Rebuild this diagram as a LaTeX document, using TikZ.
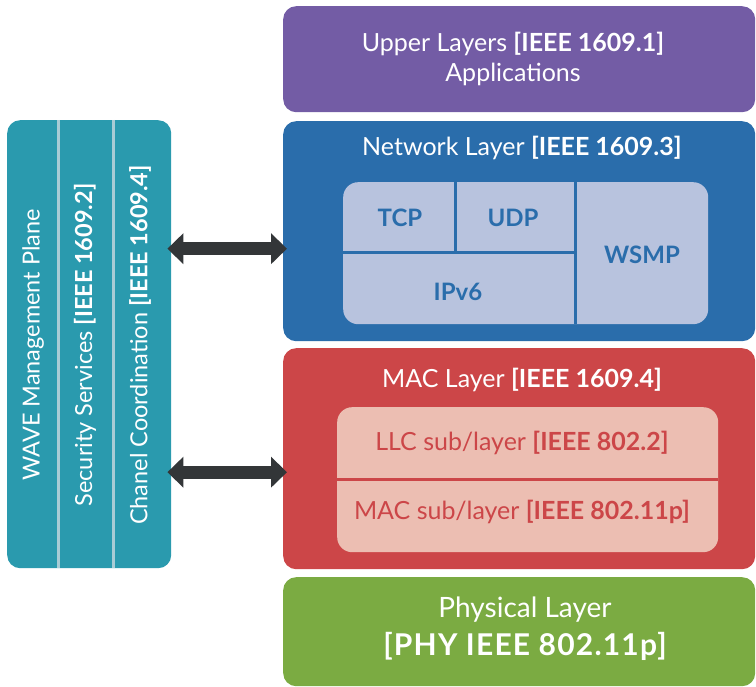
\documentclass[tikz,border=0pt]{standalone}
\usepackage{fontspec}
\setmainfont{Lato}
\usetikzlibrary{arrows.meta,positioning}
\definecolor{upperpurple}{HTML}{735CA5}
\definecolor{netblue}{HTML}{2A6DAB}
\definecolor{netlight}{HTML}{B8C3DE}
\definecolor{macred}{HTML}{CC4648}
\definecolor{macpink}{HTML}{ECBEB2}
\definecolor{phygreen}{HTML}{7BAB42}
\definecolor{waveteal}{HTML}{2A9AAE}
\definecolor{waveline}{HTML}{A8CCD5}
\definecolor{arrowgray}{HTML}{333638}
\begin{document}
\begin{tikzpicture}[x=1pt,y=-1pt,
  layer/.style={rectangle, rounded corners=13pt, inner sep=0pt, anchor=north west,
    minimum width=472pt},
  inner/.style={rectangle, rounded corners=15pt, inner sep=0pt, anchor=north west},
  title/.style={text=white, font=\fontsize{25}{30}\selectfont, align=center},
  cell/.style={text=netblue, font=\fontsize{24}{28}\selectfont\bfseries},
  sub/.style={text=macred, font=\fontsize{25}{28}\selectfont},
  plane/.style={text=white, rotate=90, font=\fontsize{23.5}{28}\selectfont},
  twoway/.style={draw=arrowgray, line width=13pt, shorten <=-4pt, shorten >=-4pt,
    {Triangle[width=30pt,length=16pt]}-{Triangle[width=30pt,length=16pt]}}
  ]
  \useasboundingbox (0,0) rectangle (756,687);
  % layers
  \node[layer, fill=upperpurple, minimum height=106pt] (upper) at (283,6) {};
  \node[layer, fill=netblue, minimum height=220pt] (net) at (283,121) {};
  \node[layer, fill=macred, minimum height=221pt] (mac) at (283,348) {};
  \node[layer, fill=phygreen, minimum height=109pt] (phy) at (283,577) {};
  \node[rectangle, rounded corners=13pt, anchor=north west, fill=waveteal,
    minimum width=164pt, minimum height=448pt] (wave) at (7,120) {};
  \draw[waveline, line width=3pt] (58,120) -- (58,568) (113,120) -- (113,568);

  \node[title] (uppert) at (513,59) {Upper Layers \textbf{[IEEE 1609.1]}\\Applications};
  \node[title] (nett) at (522,148) {Network Layer \textbf{[IEEE 1609.3]}};
  \node[title] (mact) at (522,380) {MAC Layer \textbf{[IEEE 1609.4]}};
  \node[title, font=\fontsize{28}{38}\selectfont] (phyt) at (525,629)
    {Physical Layer\\{\fontsize{30}{38}\selectfont\bfseries\addfontfeature{LetterSpace=4}[PHY IEEE 802.11p]}};

  % network sub-blocks
  \node[inner, fill=netlight, minimum width=365pt, minimum height=142pt] (netin) at (343,182) {};
  \draw[netblue, line width=3pt] (575,182) -- (575,324) (343,253) -- (575,253)
    (455,182) -- (455,253);
  \node[cell] (tcp) at (400,218) {TCP};
  \node[cell] (udp) at (513,218) {UDP};
  \node[cell] (ipv6) at (458,292) {IPv6};
  \node[cell] (wsmp) at (642,255) {WSMP};

  % mac sub-blocks
  \node[inner, fill=macpink, minimum width=381pt, minimum height=145pt] (macin) at (337,407) {};
  \draw[macred, line width=3pt] (337,479) -- (718,479);
  \node[sub] (llc) at (522,443) {LLC sub/layer \textbf{[IEEE 802.2]}};
  \node[sub] (macsub) at (522,512) {MAC sub/layer \textbf{[IEEE 802.11p]}};

  % management plane
  \node[plane] (wavet) at (33,345) {WAVE Management Plane};
  \node[plane] (sect) at (85,345) {Security Services \textbf{[IEEE 1609.2]}};
  \node[plane] (chant) at (140,345) {Chanel Coordination \textbf{[IEEE 1609.4]}};

  \draw[twoway] ([yshift=-17.5pt]wave.east |- net.west) -- ([yshift=-17.5pt]net.west);
  \draw[twoway] ([yshift=-13.5pt]wave.east |- mac.west) -- ([yshift=-13.5pt]mac.west);
\end{tikzpicture}
\end{document}
